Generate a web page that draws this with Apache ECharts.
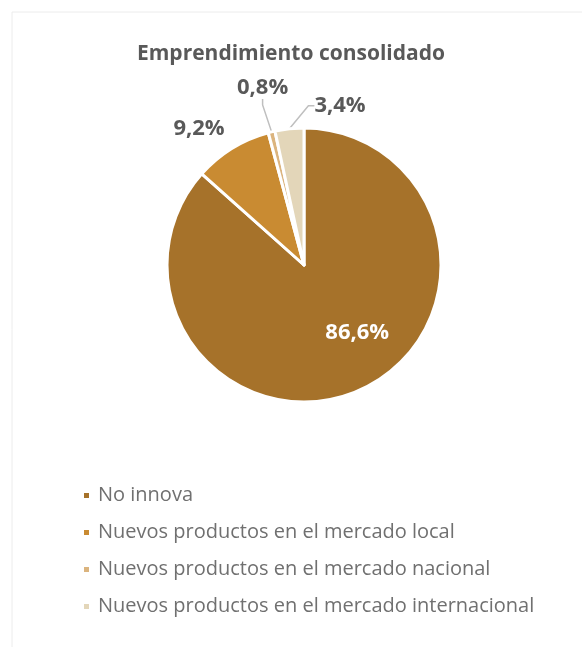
<!DOCTYPE html>
<html>
<head>
<meta charset="utf-8">
<script src="https://cdn.jsdelivr.net/npm/echarts@6/dist/echarts.min.js"></script>
<style>
  html, body { margin: 0; padding: 0; background: #fff; }
  #chart { width: 582px; height: 647px; }
</style>
</head>
<body>
<div id="chart"></div>
<script>
var titleText = 'Emprendimiento consolidado';
var categories = [
    'No innova',
    'Nuevos productos en el mercado local',
    'Nuevos productos en el mercado nacional',
    'Nuevos productos en el mercado internacional'
];
var values = [86.6, 9.2, 0.8, 3.4];
var colors = ['#A6722A', '#C98B32', '#DBB47E', '#E3D6B9'];

var fontName = 'Open Sans';
var myChart = echarts.init(document.getElementById('chart'));

var pieData = [];
for (var i = 0; i < categories.length; i++) {
    var item = { name: categories[i], value: values[i], itemStyle: { color: colors[i] } };
    if (i === 0) {
        item.label = { position: 'inside', color: '#fff' };
    }
    if (i === 1) {
        item.labelLine = { show: false };
    }
    pieData.push(item);
}

// nudge labels to where the original puts them (offsets from the slice anchor)
function placeLabel(p) {
    var a = p.labelLinePoints ? p.labelLinePoints[0] : null;
    if (p.dataIndex === 0) {
        return { dx: 24, dy: 2 };
    }
    if (!a) return {};
    if (p.dataIndex === 1) {
        return { x: a[0] - 33, y: a[1] - 20, align: 'center', verticalAlign: 'middle' };
    }
    if (p.dataIndex === 2) {
        return { x: a[0] - 9, y: a[1] - 44, align: 'center', verticalAlign: 'middle' };
    }
    if (p.dataIndex === 3) {
        return { x: a[0] + 25, y: a[1] - 23, align: 'left', verticalAlign: 'middle' };
    }
    return {};
}

var option = {
    textStyle: { fontFamily: fontName },
    title: {
        text: titleText,
        left: 'center',
        top: 39,
        textStyle: { fontFamily: fontName, fontSize: 21, fontWeight: 'bold', color: '#595959' }
    },
    legend: {
        orient: 'vertical',
        left: 77,
        top: 480,
        icon: 'rect',
        itemWidth: 7,
        itemHeight: 7,
        itemGap: 16,
        textStyle: { fontFamily: fontName, fontSize: 20, color: '#707070', lineHeight: 21, padding: [0, 0, 0, 3] },
        data: categories
    },
    graphic: [
        { type: 'line', shape: { x1: 12, y1: 12, x2: 12, y2: 647 }, style: { stroke: '#ececec', lineWidth: 1 } },
        { type: 'line', shape: { x1: 12, y1: 12, x2: 582, y2: 12 }, style: { stroke: '#ececec', lineWidth: 1 } }
    ],
    series: [
        {
            type: 'pie',
            center: [304, 265],
            radius: 137,
            startAngle: 90,
            clockwise: true,
            avoidLabelOverlap: false,
            itemStyle: { borderColor: '#fff', borderWidth: 3 },
            label: {
                show: true,
                fontFamily: fontName,
                fontSize: 22,
                fontWeight: 'bold',
                color: '#595959',
                formatter: function (p) {
                    return p.value.toFixed(1).replace('.', ',') + '%';
                }
            },
            labelLine: { show: true, length: 12, length2: 6, lineStyle: { color: '#bfbfbf', width: 1.5 } },
            labelLayout: placeLabel,
            emphasis: { disabled: true },
            data: pieData
        }
    ]
};

myChart.setOption(option);

window.addEventListener('resize', function () {
    myChart.resize();
});
</script>
</body>
</html>
